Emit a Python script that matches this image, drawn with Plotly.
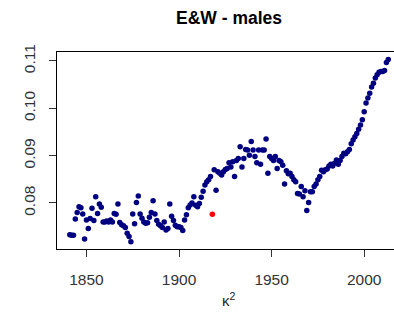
import plotly.graph_objects as go

years = list(range(1841, 2014))
values = [
    0.0733, 0.0732, 0.0732, 0.0766, 0.0780, 0.0792, 0.0790, 0.0777, 0.0724, 0.0764,  # 1841-1850
    0.0746, 0.0767, 0.0789, 0.0763, 0.0813, 0.0778, 0.0798, 0.0791, 0.0760, 0.0760,  # 1851-1860
    0.0762, 0.0760, 0.0764, 0.0760, 0.0778, 0.0776, 0.0798, 0.0759, 0.0754, 0.0752,  # 1861-1870
    0.0748, 0.0736, 0.0729, 0.0718, 0.0777, 0.0756, 0.0801, 0.0815, 0.0777, 0.0768,  # 1871-1880
    0.0760, 0.0757, 0.0758, 0.0770, 0.0780, 0.0805, 0.0777, 0.0763, 0.0755, 0.0752,  # 1881-1890
    0.0748, 0.0760, 0.0743, 0.0746, 0.0798, 0.0772, 0.0763, 0.0753, 0.0750, 0.0750,  # 1891-1900
    0.0748, 0.0742, 0.0764, 0.0775, 0.0790, 0.0796, 0.0800, 0.0813, 0.0795, 0.0792,  # 1901-1910
    0.0799, 0.0812, 0.0825, 0.0838, 0.0845, 0.0849, 0.0856, None,   0.0870, 0.0827,  # 1911-1920
    0.0866, 0.0863, 0.0859, 0.0866, 0.0871, 0.0873, 0.0885, 0.0876, 0.0887, 0.0856,  # 1921-1930
    0.0890, 0.0894, 0.0919, 0.0876, 0.0894, 0.0913, 0.0912, 0.0901, 0.0930, 0.0912,  # 1931-1940
    0.0898, 0.0885, 0.0912, 0.0882, 0.0912, 0.0912, 0.0935, 0.0863, 0.0898, 0.0894,  # 1941-1950
    0.0890, 0.0898, 0.0873, 0.0890, 0.0887, 0.0880, 0.0840, 0.0868, 0.0862, 0.0863,  # 1951-1960
    0.0856, 0.0849, 0.0845, 0.0820, 0.0819, 0.0835, 0.0813, 0.0826, 0.0784, 0.0801,  # 1961-1970
    0.0824, 0.0824, 0.0835, 0.0840, 0.0849, 0.0856, 0.0869, 0.0866, 0.0870, 0.0872,  # 1971-1980
    0.0878, 0.0882, 0.0878, 0.0884, 0.0891, 0.0882, 0.0890, 0.0898, 0.0905, 0.0904,  # 1981-1990
    0.0908, 0.0913, 0.0925, 0.0933, 0.0940, 0.0947, 0.0956, 0.0965, 0.0976, 0.0993,  # 1991-2000
    0.1011, 0.1022, 0.1032, 0.1045, 0.1053, 0.1064, 0.1071, 0.1076, 0.1078, 0.1078,  # 2001-2010
    0.1080, 0.1097, 0.1103,                                                          # 2011-2013
]
outlier_year = [1918]
outlier_value = [0.0776]

x_ticks = [1850, 1900, 1950, 2000]
y_ticks = [0.08, 0.09, 0.10, 0.11]

fig = go.Figure()
fig.add_trace(go.Scatter(x=years, y=values, mode="markers",
                         marker=dict(color="#000080", size=5.5, line=dict(width=0)),
                         showlegend=False))
fig.add_trace(go.Scatter(x=outlier_year, y=outlier_value, mode="markers",
                         marker=dict(color="#FF0000", size=5.5, line=dict(width=0)),
                         showlegend=False))

font = "Liberation Sans, Arial, sans-serif"
fig.update_layout(
    width=394, height=321,
    margin=dict(l=57, r=0, t=52, b=72),
    paper_bgcolor="white", plot_bgcolor="white",
    font=dict(family=font, color="black", size=15),
    title=dict(text="<b>E&W - males</b>", xref="container", yref="container",
               x=229/394, y=1-18/321, xanchor="center", yanchor="middle",
               font=dict(family=font, size=17.5, color="black")),
    xaxis=dict(range=[1834.1, 2016.1], tickvals=x_ticks, ticks="outside", ticklen=7,
               tickcolor="#333", showline=True, linecolor="black", linewidth=1,
               mirror=True, showgrid=False, zeroline=False,
               tickfont=dict(size=15.5, color="#333"), ticklabelstandoff=9),
    yaxis=dict(range=[0.07028, 0.1119], tickvals=y_ticks, tickformat=".2f",
               ticks="outside", ticklen=7, tickcolor="#333", showline=True,
               linecolor="black", linewidth=1, mirror=False, showgrid=False,
               zeroline=False, tickangle=-90,
               tickfont=dict(size=15.5, color="#333"), ticklabelstandoff=8),
    annotations=[dict(text="κ<sup>2</sup>", xref="paper", yref="paper",
                      x=(229-57)/337, y=-(299-249)/197, xanchor="center",
                      yanchor="middle", showarrow=False,
                      font=dict(family=font, size=15, color="#222"))],
)

fig.write_html("out.html")
